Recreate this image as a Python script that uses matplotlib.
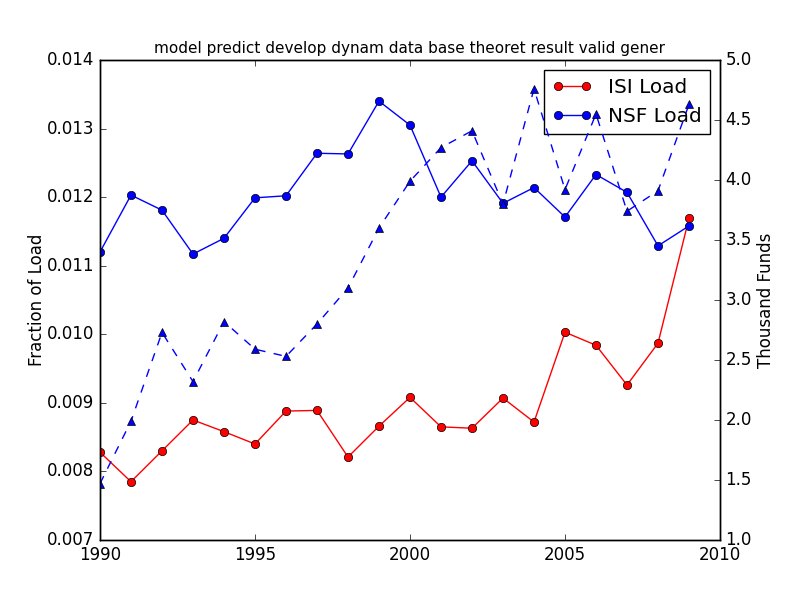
import matplotlib
matplotlib.use("Agg")
import matplotlib.pyplot as plt

plt.style.use("classic")
plt.rcParams["axes.formatter.useoffset"] = False

years = list(range(1990, 2010))
isi_load = [0.00828, 0.00785, 0.00830, 0.00875, 0.00858, 0.00840, 0.00888, 0.00889,
            0.00821, 0.00866, 0.00908, 0.00865, 0.00863, 0.00907, 0.00872, 0.01003,
            0.00984, 0.00926, 0.00987, 0.01169]
nsf_load = [0.01120, 0.01203, 0.01181, 0.01117, 0.01140, 0.01199, 0.01202, 0.01264,
            0.01263, 0.01340, 0.01305, 0.01200, 0.01253, 0.01191, 0.01214, 0.01171,
            0.01233, 0.01207, 0.01129, 0.01158]
funds = [1.47, 1.99, 2.73, 2.32, 2.82, 2.59, 2.53, 2.80, 3.10, 3.60, 3.99, 4.27,
         4.41, 3.80, 4.76, 3.92, 4.55, 3.74, 3.91, 4.63]

fig = plt.figure(figsize=(8, 6), dpi=100)
ax = fig.add_subplot(111)
ax.plot(years, isi_load, "ro-", label="ISI Load")
ax.plot(years, nsf_load, "bo-", label="NSF Load")
ax.set_ylim(0.007, 0.014)
ax.set_xlim(1990, 2010)
ax.set_ylabel("Fraction of Load", labelpad=1)
ax.set_title("model predict develop dynam data base theoret result valid gener", fontsize=11)
ax.legend(loc="upper right")

ax2 = ax.twinx()
ax2.plot(years, funds, "b^--")
ax2.set_ylim(1.0, 5.0)
ax2.set_xlim(1990, 2010)
ax2.set_ylabel("Thousand Funds", labelpad=4)

fig.savefig("out.png", dpi=100)
